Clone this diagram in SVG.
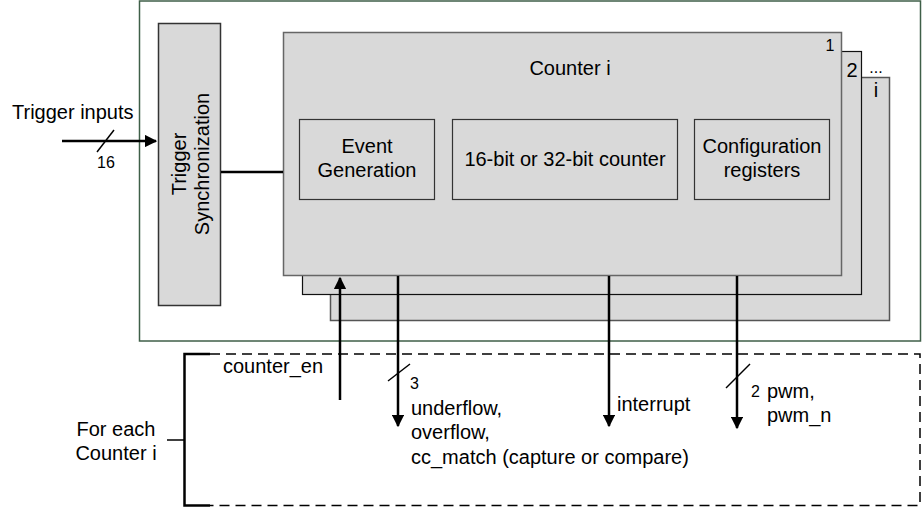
<svg xmlns="http://www.w3.org/2000/svg" width="923" height="508" viewBox="0 0 923 508">
<defs>
<style>
text{font-family:"Liberation Sans",Arial,sans-serif;fill:#000}
.lbl{font-size:20px}
.sm{font-size:16px}
.box{fill:#d9d9d9}
.wire{stroke:#000;stroke-width:2.5;fill:none}
.thin{stroke:#000;stroke-width:1.5;fill:none}
</style>
<marker id="ah" viewBox="0 0 10 10" refX="9" refY="5" markerWidth="5" markerHeight="5" orient="auto" markerUnits="strokeWidth">
<path d="M0,0 L10,5 L0,10 z" fill="#000"/>
</marker>
</defs>
<rect width="923" height="508" fill="#fff"/>
<g id="outer">
<rect x="139.5" y="1" width="781" height="340" fill="none" stroke="#3f5f48" stroke-width="1.5"/>
</g>
<g id="trigger-sync">
<rect class="box" x="158.5" y="23.5" width="62" height="282" stroke="#333" stroke-width="1.5"/>
<text class="lbl" transform="translate(190,164) rotate(-90)" text-anchor="middle"><tspan x="0" y="-4">Trigger</tspan><tspan x="0" y="19">Synchronization</tspan></text>
</g>
<g id="counter-i">
<rect class="box" x="330.5" y="77.5" width="559" height="243" stroke="#555" stroke-width="1.5"/>
<text class="lbl" x="876" y="97" text-anchor="middle">i</text>
</g>
<g id="counter-2">
<rect class="box" x="302.5" y="51.5" width="559" height="243" stroke="#111" stroke-width="1.2"/>
<text class="lbl" x="852" y="77" text-anchor="middle">2</text>
<text class="sm" x="876" y="73" text-anchor="middle">...</text>
</g>
<g id="counter-1">
<rect class="box" x="283.5" y="32.5" width="558" height="243" stroke="#666" stroke-width="1.5"/>
<text class="sm" x="830" y="51" text-anchor="middle">1</text>
<text class="lbl" x="570" y="75" text-anchor="middle">Counter i</text>
</g>
<g id="event-generation">
<rect class="box" x="299.5" y="119.5" width="135" height="80" stroke="#333" stroke-width="1.2"/>
<text class="lbl" x="367" y="153" text-anchor="middle">Event</text>
<text class="lbl" x="367" y="177" text-anchor="middle">Generation</text>
</g>
<g id="counter-core">
<rect class="box" x="452.5" y="119.5" width="225" height="80" stroke="#333" stroke-width="1.2"/>
<text class="lbl" x="565" y="166" text-anchor="middle">16-bit or 32-bit counter</text>
</g>
<g id="config-registers">
<rect class="box" x="694.5" y="119.5" width="135" height="80" stroke="#333" stroke-width="1.2"/>
<text class="lbl" x="762" y="153" text-anchor="middle">Configuration</text>
<text class="lbl" x="762" y="177" text-anchor="middle">registers</text>
</g>
<g id="for-each">
<path d="M210,354 H184.5 V505.5 H210" class="wire"/>
<path d="M167,440 H184" class="thin"/>
<path d="M210,354 H920 V505.5 H210" fill="none" stroke="#000" stroke-width="1.5" stroke-dasharray="10,6"/>
<text class="lbl" x="116" y="436" text-anchor="middle">For each</text>
<text class="lbl" x="116" y="460" text-anchor="middle">Counter i</text>
</g>
<g id="connectors">
<path d="M62,141 H156" class="wire" marker-end="url(#ah)"/>
<path d="M97,152 L114,130" class="thin"/>
<text class="sm" x="106" y="168" text-anchor="middle">16</text>
<text class="lbl" x="12" y="119">Trigger inputs</text>
<path d="M221,172 H283" class="wire"/>
<path d="M340,400 V278" class="wire" marker-end="url(#ah)"/>
<text class="lbl" x="223" y="373">counter_en</text>
<path d="M398,276 V426" class="wire" marker-end="url(#ah)"/>
<path d="M388,381 L410,364" class="thin"/>
<text class="sm" x="410" y="389">3</text>
<text class="lbl" x="411" y="415">underflow,</text>
<text class="lbl" x="411" y="439">overflow,</text>
<text class="lbl" x="411" y="464">cc_match (capture or compare)</text>
<path d="M609,276 V426" class="wire" marker-end="url(#ah)"/>
<text class="lbl" x="617" y="411">interrupt</text>
<path d="M737,276 V428" class="wire" marker-end="url(#ah)"/>
<path d="M726,388 L750,364" class="thin"/>
<text class="sm" x="751" y="397">2</text>
<text class="lbl" x="767" y="398">pwm,</text>
<text class="lbl" x="767" y="422">pwm_n</text>
</g>
</svg>
